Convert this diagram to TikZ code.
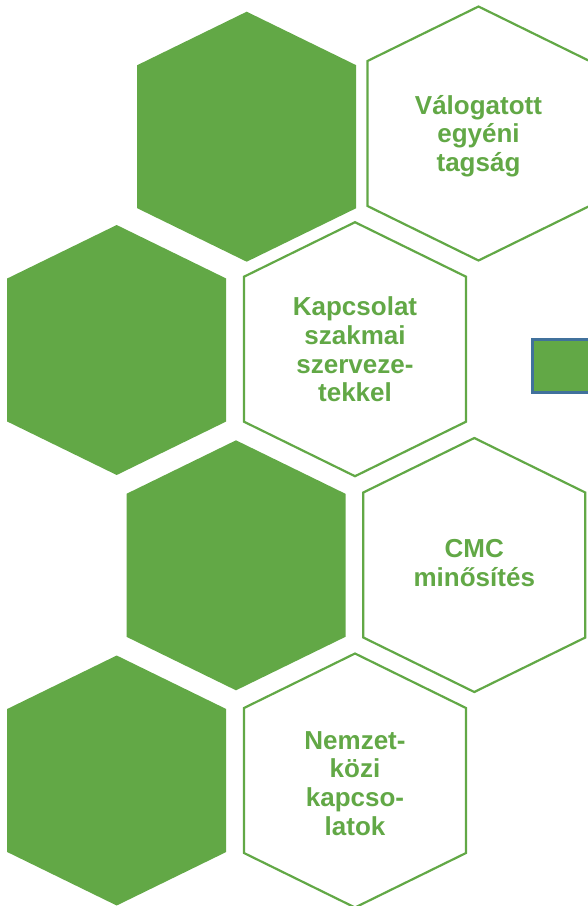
\documentclass[tikz,border=0pt]{standalone}
\usepackage{fontspec}
\setmainfont{Liberation Sans}
\usepackage{tikz}
\usetikzlibrary{positioning}
\definecolor{leafgreen}{HTML}{62A846}
\definecolor{edgeblue}{HTML}{41719C}
\tikzstyle{hexfill}=[%
      fill=leafgreen, draw=none
]
\tikzstyle{hexline}=[%
      draw=leafgreen, line width=2.2pt, fill=none, line join=miter
]
\tikzstyle{lbl}=[%
      text=leafgreen, font=\bfseries\fontsize{26}{28.7}\selectfont,
      align=center, inner sep=0pt
]
\tikzstyle{stub}=[%
      rectangle, fill=leafgreen, draw=edgeblue, line width=2.5pt,
      minimum width=72pt, minimum height=53pt, inner sep=0pt
]

\begin{document}
\begin{tikzpicture}[x=1pt, y=-1pt]
    \useasboundingbox (0,0) rectangle (588,906);

    % filled hexagons
    \foreach \cx/\cy in {246.7/136.7, 116.7/350, 236/565.3, 116.7/780.5}
      \fill[hexfill] (\cx,\cy) +(0,-125) -- +(109.5,-71.5) -- +(109.5,71.5)
          -- +(0,125) -- +(-109.5,71.5) -- +(-109.5,-71.5) -- cycle;

    % outlined hexagons
    \foreach \cx/\cy in {478.5/133.5, 355/349.2, 474.3/565, 355/780.5}
      \draw[hexline] (\cx,\cy) +(0,-127) -- +(111,-72.5) -- +(111,72.5)
          -- +(0,127) -- +(-111,72.5) -- +(-111,-72.5) -- cycle;

    \node[lbl] (valog)  at (478.5,136)  {Válogatott\\egyéni\\tagság};
    \node[lbl] (kapcs)  at (355,349.5)  {Kapcsolat\\szakmai\\szerveze-\\tekkel};
    \node[lbl] (cmc)    at (474.3,563)  {CMC\\minősítés};
    \node[lbl] (nemzet) at (355,783.5)  {Nemzet-\\közi\\kapcso-\\latok};

    \node[stub, anchor=north west] (tab) at (531,338) {};
\end{tikzpicture}
\end{document}
